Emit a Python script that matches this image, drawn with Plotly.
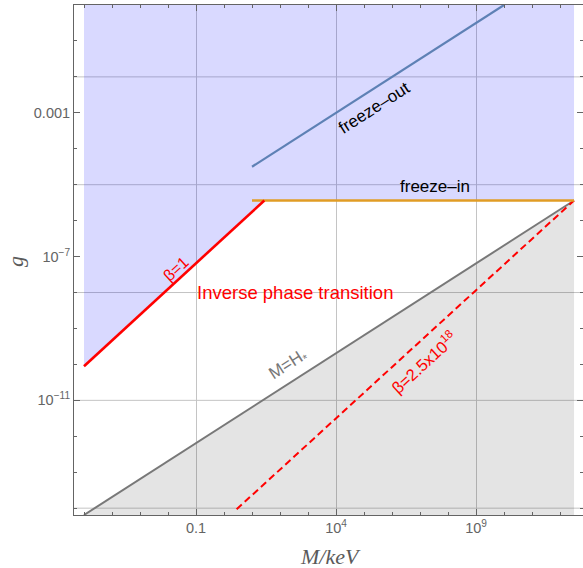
import plotly.graph_objects as go

# ---- data (M in keV, g dimensionless) ----
beta1_M = [1e-5, 10**1.44]
beta1_g = [10**-10.05, 10**-5.44]
freeze_in_M = [10**1.0, 10**12.5]
freeze_in_g = [10**-5.44, 10**-5.44]
freeze_out_M = [10**1.0, 10**10.0]
freeze_out_g = [10**-4.5, 10**0.0]
hubble_M = [1e-5, 10**12.5]
hubble_g = [10**-14.19, 10**-5.44]
beta_max_M = [10**0.45, 10**12.5]
beta_max_g = [10**-14.03, 10**-5.44]
g_top = 1.0
g_floor = 1e-16

x_tickvals = [0.1, 1e4, 1e9]
x_ticktext = ["0.1", "10<sup>4</sup>", "10<sup>9</sup>"]
y_tickvals = [1e-3, 1e-7, 1e-11]
y_ticktext = ["0.001", "10<sup>\u22127</sup>", "10<sup>\u221211</sup>"]
x_minor = [10.0**k for k in range(-5, 13)]
y_minor = [10.0**k for k in range(-14, 0)]
y_grid = [1e-2, 1e-5, 1e-8, 1e-11, 1e-14]
grid_span_M = [1e-7, 1e14]

GRID = "#c4c4c4"
FONT = "Liberation Sans, Arial, sans-serif"
SERIF = "Liberation Serif, Times New Roman, serif"

fig = go.Figure()

# horizontal grid lines
for gv in y_grid:
    fig.add_trace(go.Scatter(x=grid_span_M, y=[gv, gv], mode="lines",
                             line=dict(color=GRID, width=1), hoverinfo="skip",
                             showlegend=False))

# blue region (above beta=1 and freeze-in)
fig.add_trace(go.Scatter(
    x=[beta1_M[0], beta1_M[1], freeze_in_M[1], freeze_in_M[1], beta1_M[0], beta1_M[0]],
    y=[beta1_g[0], beta1_g[1], freeze_in_g[1], g_top, g_top, beta1_g[0]],
    mode="lines", fill="toself", fillcolor="rgba(0,0,255,0.15)",
    line=dict(width=0), hoverinfo="skip", showlegend=False))

# gray region (below M=H*)
fig.add_trace(go.Scatter(
    x=[hubble_M[0], hubble_M[1], hubble_M[1], hubble_M[0], hubble_M[0]],
    y=[hubble_g[0], hubble_g[1], g_floor, g_floor, hubble_g[0]],
    mode="lines", fill="toself", fillcolor="rgba(0,0,0,0.105)",
    line=dict(width=0), hoverinfo="skip", showlegend=False))

# lines
fig.add_trace(go.Scatter(x=hubble_M, y=hubble_g, mode="lines",
                         line=dict(color="rgb(120,120,120)", width=2), showlegend=False))
fig.add_trace(go.Scatter(x=beta_max_M, y=beta_max_g, mode="lines",
                         line=dict(color="red", width=2, dash="7px,4px"), showlegend=False))
fig.add_trace(go.Scatter(x=freeze_out_M, y=freeze_out_g, mode="lines",
                         line=dict(color="rgb(94,129,181)", width=2.2), showlegend=False))
fig.add_trace(go.Scatter(x=freeze_in_M, y=freeze_in_g, mode="lines",
                         line=dict(color="rgb(225,156,36)", width=2.6), showlegend=False))
fig.add_trace(go.Scatter(x=beta1_M, y=beta1_g, mode="lines",
                         line=dict(color="red", width=2.6), showlegend=False))

annotations = [
    dict(x=5.39, y=-2.86, text="freeze\u2013out", textangle=-32.7,
         font=dict(size=17, color="black", family=FONT)),
    dict(x=7.54, y=-5.06, text="freeze\u2013in", textangle=0,
         font=dict(size=17, color="black", family=FONT)),
    dict(x=-1.70, y=-7.33, text="\u03b2=1", textangle=-42.5,
         font=dict(size=16, color="red", family=FONT)),
    dict(x=2.54, y=-7.99, text="Inverse phase transition", textangle=0,
         font=dict(size=18.5, color="red", family=FONT)),
    dict(x=2.32, y=-10.02, text="M=H<sub>*</sub>", textangle=-32.7,
         font=dict(size=17, color="rgb(120,120,120)", family=FONT)),
    dict(x=7.14, y=-9.94, text="\u03b2=2.5x10<sup>18</sup>", textangle=-42.5,
         font=dict(size=16.5, color="red", family=FONT)),
]
for a in annotations:
    a.update(xref="x", yref="y", showarrow=False)

annotations += [
    dict(x=330, y=568 - 556, xref="paper", yref="paper", text="<i>M/keV</i>",
         showarrow=False, xanchor="center", yanchor="middle",
         font=dict(size=22, color="rgb(90,90,90)", family=SERIF)),
    dict(x=15, y=568 - 262, xref="paper", yref="paper", text="<i>g</i>", textangle=-90,
         showarrow=False, xanchor="center", yanchor="middle",
         font=dict(size=22, color="rgb(90,90,90)", family=SERIF)),
]
# convert the two pixel-positioned titles to paper coordinates
L, R, T, B = 74, 0, 5, 53
W, H = 583, 568
pw, ph = W - L - R, H - T - B
for a in annotations[-2:]:
    a["x"] = (a["x"] - L) / pw
    a["y"] = (a["y"] - B) / ph

axis_common = dict(
    type="log", showline=True, mirror="allticks", linecolor="rgb(100,100,100)", linewidth=1,
    ticks="inside", ticklen=6, tickcolor="rgb(100,100,100)", tickwidth=1,
    tickmode="array", zeroline=False,
    tickfont=dict(size=14.5, color="rgb(100,100,100)", family=FONT),
)

fig.update_layout(
    width=W, height=H,
    margin=dict(l=L, r=R, t=T, b=B),
    paper_bgcolor="white", plot_bgcolor="white",
    showlegend=False,
    annotations=annotations,
    xaxis=dict(axis_common, range=[-5.357, 12.82], tickvals=x_tickvals, ticktext=x_ticktext,
               showgrid=True, gridcolor=GRID, gridwidth=1,
               minor=dict(tickmode="array", tickvals=x_minor, ticks="inside", ticklen=3,
                          tickcolor="rgb(100,100,100)", showgrid=False)),
    yaxis=dict(axis_common, range=[-14.19, 0.0], tickvals=y_tickvals, ticktext=y_ticktext,
               showgrid=False,
               minor=dict(tickmode="array", tickvals=y_minor, ticks="inside", ticklen=3,
                          tickcolor="rgb(100,100,100)", showgrid=False)),
)

fig.write_html("out.html", config={"displayModeBar": False},
               post_script="document.body.style.margin='0';")
